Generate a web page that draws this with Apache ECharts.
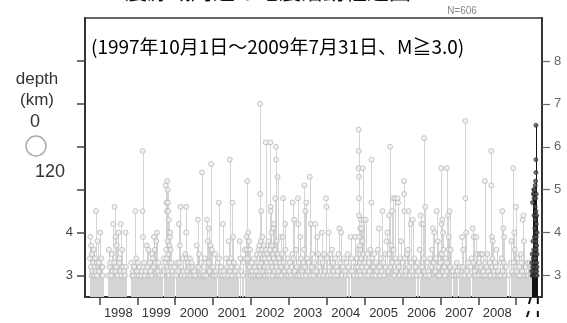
<!DOCTYPE html>
<html><head><meta charset="utf-8">
<script src="https://cdn.jsdelivr.net/npm/echarts@6/dist/echarts.min.js"></script>
<style>html,body{margin:0;padding:0;background:#fff}#c{width:567px;height:323px}</style>
</head><body><div id="c"></div>
<script>
// ---- axis definitions ----
const timeMin = 1997.62, timeMax = 2009.68;
const magMin = 2.5, magMax = 9;
const yearTicks = [1998,1999,2000,2001,2002,2003,2004,2005,2006,2007,2008,2009];
const yearLabels = [1998.5,1999.5,2000.5,2001.5,2002.5,2003.5,2004.5,2005.5,2006.5,2007.5,2008.5];
const magTicks = [3,4,5,6,7,8];
const leftMagLabels = [3,4];
const breakTimes = [2009.36, 2009.57];

// ---- events: [decimal year, magnitude] ----
const ev1997 = [[1997.75,3.4],[1997.76,3.9],[1997.77,3.2],[1997.78,3.7],[1997.79,3.0],[1997.80,3.5],[1997.81,3.1],[1997.83,3.3],[1997.84,3.0],[1997.85,3.6],[1997.87,3.2],[1997.88,3.0],[1997.89,3.4],[1997.90,3.1],[1997.91,4.5],[1997.93,3.3],[1997.94,3.0],[1997.95,3.8],[1997.97,3.2],[1997.98,3.1],[1997.99,3.3]];
const ev1998 = [[1998.02,4.0],[1998.03,3.2],[1998.05,3.4],[1998.07,3.2],[1998.08,3.2],[1998.09,3.0],[1998.23,3.0],[1998.25,3.6],[1998.27,3.2],[1998.29,3.3],[1998.31,3.0],[1998.33,3.5],[1998.35,3.1],[1998.37,4.2],[1998.39,3.3],[1998.40,4.6],[1998.42,3.1],[1998.43,3.9],[1998.45,3.2],[1998.46,3.7],[1998.48,3.0],[1998.50,4.0],[1998.52,3.3],[1998.53,3.4],[1998.55,3.1],[1998.56,4.2],[1998.58,3.0],[1998.60,3.6],[1998.62,3.2],[1998.65,3.1],[1998.67,3.0],[1998.69,4.0],[1998.70,3.2],[1998.84,3.3],[1998.86,3.0],[1998.88,3.1],[1998.90,3.0],[1998.92,3.2],[1998.95,4.5],[1998.96,3.1],[1998.97,3.4],[1998.99,3.0]];
const ev1999 = [[1999.00,3.1],[1999.02,3.3],[1999.04,3.0],[1999.06,3.2],[1999.10,3.0],[1999.12,3.1],[1999.14,5.9],[1999.14,4.5],[1999.15,3.9],[1999.16,3.2],[1999.18,3.3],[1999.20,3.0],[1999.22,3.1],[1999.25,3.7],[1999.27,3.2],[1999.29,3.6],[1999.31,3.0],[1999.33,3.3],[1999.35,3.1],[1999.37,3.0],[1999.39,3.5],[1999.41,3.4],[1999.43,3.2],[1999.44,3.9],[1999.46,3.6],[1999.48,3.3],[1999.50,3.8],[1999.52,4.0],[1999.54,3.1],[1999.56,3.3],[1999.59,3.0],[1999.62,3.2],[1999.66,3.0],[1999.70,3.4],[1999.72,3.1],[1999.74,3.3],[1999.75,5.1],[1999.76,3.6],[1999.77,4.7],[1999.78,4.5],[1999.78,3.4],[1999.79,5.2],[1999.79,3.2],[1999.80,5.0],[1999.80,3.8],[1999.81,4.7],[1999.81,3.1],[1999.82,4.5],[1999.82,3.5],[1999.83,4.3],[1999.83,3.0],[1999.84,4.0],[1999.85,3.7],[1999.85,3.3],[1999.86,3.9],[1999.87,4.0],[1999.88,3.6],[1999.89,3.2],[1999.90,3.3],[1999.92,3.1],[1999.94,3.0],[1999.97,3.2]];
const ev2000 = [[2000.02,3.0],[2000.05,3.3],[2000.08,3.1],[2000.10,4.2],[2000.11,3.3],[2000.12,3.7],[2000.14,4.6],[2000.15,3.2],[2000.17,3.0],[2000.20,3.4],[2000.22,3.1],[2000.25,3.0],[2000.27,3.5],[2000.29,4.6],[2000.29,4.0],[2000.30,3.4],[2000.31,3.1],[2000.33,3.3],[2000.35,3.0],[2000.37,3.2],[2000.39,3.4],[2000.41,3.0],[2000.43,3.3],[2000.45,3.2],[2000.48,3.0],[2000.50,3.1],[2000.53,3.0],[2000.55,3.2],[2000.57,3.7],[2000.60,4.3],[2000.61,3.2],[2000.63,3.5],[2000.66,3.0],[2000.69,3.3],[2000.71,5.4],[2000.72,3.0],[2000.74,3.1],[2000.76,3.0],[2000.78,3.4],[2000.80,3.3],[2000.82,3.0],[2000.84,4.3],[2000.86,3.8],[2000.88,4.1],[2000.89,3.3],[2000.91,3.1],[2000.93,3.7],[2000.95,5.6],[2000.96,3.2],[2000.97,3.6],[2000.99,3.0]];
const ev2001 = [[2001.01,3.2],[2001.03,3.0],[2001.05,3.5],[2001.07,3.1],[2001.09,3.0],[2001.12,3.3],[2001.15,4.7],[2001.16,3.4],[2001.18,3.0],[2001.21,3.2],[2001.24,3.0],[2001.26,4.2],[2001.28,3.1],[2001.31,3.0],[2001.34,3.4],[2001.37,3.2],[2001.40,3.0],[2001.41,3.8],[2001.43,3.3],[2001.44,5.7],[2001.45,3.1],[2001.47,3.4],[2001.48,3.2],[2001.50,3.0],[2001.51,4.7],[2001.53,3.9],[2001.55,3.3],[2001.58,3.1],[2001.61,3.0],[2001.64,3.2],[2001.67,3.0],[2001.70,3.8],[2001.72,3.4],[2001.75,3.1],[2001.78,3.0],[2001.80,3.3],[2001.83,3.6],[2001.86,3.4],[2001.88,3.9],[2001.89,3.6],[2001.90,5.2],[2001.91,3.4],[2001.93,4.0],[2001.95,3.8],[2001.96,3.2],[2001.98,3.6],[2001.99,3.1]];
const ev2002 = [[2002.00,3.0],[2002.02,3.3],[2002.04,3.1],[2002.06,3.0],[2002.08,3.4],[2002.10,3.2],[2002.12,3.0],[2002.14,3.1],[2002.16,3.5],[2002.18,3.0],[2002.19,3.3],[2002.20,3.6],[2002.21,3.0],[2002.22,3.7],[2002.23,3.2],[2002.24,7.0],[2002.24,4.9],[2002.25,3.5],[2002.25,3.1],[2002.26,3.8],[2002.27,4.5],[2002.27,3.3],[2002.28,3.0],[2002.29,3.6],[2002.30,3.9],[2002.31,3.4],[2002.32,3.1],[2002.33,3.7],[2002.34,3.0],[2002.35,3.5],[2002.36,3.2],[2002.37,3.4],[2002.38,3.0],[2002.39,6.1],[2002.40,3.6],[2002.41,3.3],[2002.42,3.1],[2002.43,3.5],[2002.44,3.0],[2002.45,3.2],[2002.46,3.8],[2002.47,3.4],[2002.48,3.1],[2002.49,3.0],[2002.50,3.6],[2002.51,6.1],[2002.52,4.6],[2002.52,4.5],[2002.53,3.3],[2002.54,4.0],[2002.55,3.7],[2002.56,3.2],[2002.57,3.0],[2002.58,3.5],[2002.59,4.1],[2002.60,3.4],[2002.61,4.2],[2002.62,3.1],[2002.63,3.6],[2002.64,4.8],[2002.65,3.3],[2002.66,6.0],[2002.66,5.7],[2002.67,3.2],[2002.68,3.8],[2002.69,3.0],[2002.70,5.3],[2002.71,3.5],[2002.72,3.1],[2002.73,3.4],[2002.74,3.0],[2002.76,3.3],[2002.78,3.9],[2002.79,3.2],[2002.80,3.0],[2002.82,3.5],[2002.84,3.9],[2002.85,4.8],[2002.86,3.3],[2002.88,3.1],[2002.90,4.2],[2002.91,3.6],[2002.93,3.0],[2002.95,3.2],[2002.97,3.4],[2002.99,3.0]];
const ev2003 = [[2003.01,3.1],[2003.03,3.3],[2003.05,3.0],[2003.07,3.2],[2003.09,3.5],[2003.10,4.7],[2003.12,3.4],[2003.14,4.3],[2003.15,3.1],[2003.17,3.0],[2003.19,3.6],[2003.21,3.2],[2003.23,3.0],[2003.24,4.8],[2003.25,4.2],[2003.26,3.3],[2003.28,3.0],[2003.30,3.9],[2003.32,3.4],[2003.34,3.1],[2003.36,3.0],[2003.38,3.3],[2003.40,3.6],[2003.41,5.1],[2003.42,3.2],[2003.43,4.5],[2003.45,3.0],[2003.46,4.7],[2003.48,3.4],[2003.50,3.1],[2003.52,3.3],[2003.55,5.3],[2003.56,3.0],[2003.58,4.2],[2003.60,3.2],[2003.62,3.5],[2003.64,3.0],[2003.67,3.3],[2003.70,4.2],[2003.72,3.1],[2003.75,3.9],[2003.77,3.5],[2003.80,3.2],[2003.82,3.0],[2003.84,3.4],[2003.87,4.0],[2003.89,3.3],[2003.91,3.0],[2003.93,3.5],[2003.95,3.1],[2003.98,4.8],[2003.99,4.6]];
const ev2004 = [[2004.01,3.4],[2004.03,3.0],[2004.05,4.0],[2004.07,3.2],[2004.09,3.5],[2004.11,3.0],[2004.14,3.6],[2004.16,3.3],[2004.18,3.1],[2004.20,3.0],[2004.22,3.4],[2004.25,3.2],[2004.27,3.0],[2004.29,3.1],[2004.31,3.5],[2004.33,4.1],[2004.35,3.3],[2004.38,4.0],[2004.40,3.0],[2004.42,3.2],[2004.45,3.4],[2004.48,3.1],[2004.50,3.0],[2004.52,3.3],[2004.55,3.5],[2004.57,3.2],[2004.60,3.0],[2004.63,3.9],[2004.65,3.4],[2004.67,3.1],[2004.70,3.3],[2004.72,3.0],[2004.75,3.9],[2004.77,3.2],[2004.79,3.4],[2004.81,3.0],[2004.82,3.6],[2004.83,3.2],[2004.84,6.4],[2004.84,5.9],[2004.84,5.5],[2004.85,5.3],[2004.85,4.8],[2004.85,4.4],[2004.86,3.9],[2004.86,3.5],[2004.87,3.7],[2004.87,3.1],[2004.88,4.1],[2004.88,3.3],[2004.89,3.6],[2004.89,3.0],[2004.90,4.3],[2004.91,3.4],[2004.92,4.1],[2004.93,3.2],[2004.94,3.8],[2004.95,5.5],[2004.96,3.5],[2004.97,4.3],[2004.98,3.1],[2004.99,3.3]];
const ev2005 = [[2005.01,3.0],[2005.03,4.3],[2005.05,3.2],[2005.07,3.5],[2005.09,3.0],[2005.11,3.3],[2005.13,3.1],[2005.15,3.6],[2005.18,5.7],[2005.18,4.7],[2005.19,3.4],[2005.21,3.0],[2005.23,3.2],[2005.25,3.5],[2005.28,3.0],[2005.30,3.3],[2005.32,3.1],[2005.35,3.6],[2005.37,4.1],[2005.39,3.2],[2005.41,3.0],[2005.43,3.4],[2005.45,3.1],[2005.47,4.5],[2005.49,3.3],[2005.51,3.0],[2005.54,3.5],[2005.56,3.2],[2005.58,3.8],[2005.60,4.0],[2005.62,3.1],[2005.64,4.4],[2005.65,3.5],[2005.67,6.0],[2005.68,3.2],[2005.70,3.7],[2005.72,4.5],[2005.73,3.3],[2005.75,4.8],[2005.76,3.6],[2005.78,3.0],[2005.80,4.8],[2005.81,3.4],[2005.83,3.1],[2005.85,3.3],[2005.87,4.8],[2005.88,4.7],[2005.90,3.2],[2005.92,3.0],[2005.94,3.4],[2005.96,3.8],[2005.98,3.1]];
const ev2006 = [[2006.00,3.3],[2006.02,3.0],[2006.04,5.2],[2006.04,4.9],[2006.05,4.5],[2006.06,3.4],[2006.08,3.1],[2006.10,3.0],[2006.12,3.5],[2006.14,3.6],[2006.16,4.5],[2006.17,3.2],[2006.19,3.0],[2006.21,4.2],[2006.23,3.3],[2006.25,3.1],[2006.27,4.3],[2006.29,3.0],[2006.31,3.4],[2006.34,3.2],[2006.37,3.0],[2006.40,3.3],[2006.42,3.1],[2006.45,3.6],[2006.47,3.0],[2006.48,4.4],[2006.50,4.2],[2006.52,3.2],[2006.55,4.2],[2006.56,3.4],[2006.57,6.2],[2006.58,3.1],[2006.60,4.6],[2006.62,3.0],[2006.65,3.3],[2006.68,3.1],[2006.70,3.0],[2006.73,3.4],[2006.76,3.2],[2006.78,3.6],[2006.80,4.1],[2006.82,3.3],[2006.84,4.0],[2006.86,3.1],[2006.88,3.4],[2006.90,4.5],[2006.92,3.0],[2006.93,3.8],[2006.95,3.2],[2006.97,3.0],[2006.99,3.5]];
const ev2007 = [[2007.01,3.3],[2007.02,5.5],[2007.03,4.2],[2007.04,3.5],[2007.05,4.3],[2007.06,3.1],[2007.07,4.0],[2007.08,3.6],[2007.10,3.2],[2007.12,3.0],[2007.14,3.4],[2007.16,3.1],[2007.17,5.5],[2007.18,3.3],[2007.20,4.4],[2007.21,3.6],[2007.22,3.9],[2007.24,4.5],[2007.25,3.2],[2007.27,3.6],[2007.29,3.0],[2007.32,3.1],[2007.35,3.0],[2007.38,3.2],[2007.41,3.0],[2007.43,3.3],[2007.45,3.1],[2007.48,3.0],[2007.52,3.2],[2007.55,3.0],[2007.57,3.9],[2007.59,3.2],[2007.60,3.6],[2007.63,3.0],[2007.66,6.6],[2007.66,4.8],[2007.68,4.0],[2007.70,3.1],[2007.73,3.3],[2007.76,3.0],[2007.79,3.2],[2007.82,3.4],[2007.85,4.1],[2007.87,3.3],[2007.88,3.9],[2007.90,3.1],[2007.92,3.0],[2007.94,3.9],[2007.96,3.5],[2007.98,3.2]];
const ev2008 = [[2008.00,3.0],[2008.02,3.3],[2008.04,3.5],[2008.06,3.2],[2008.08,3.5],[2008.10,3.0],[2008.11,3.5],[2008.13,3.1],[2008.15,3.0],[2008.17,5.2],[2008.18,3.3],[2008.20,3.0],[2008.22,3.2],[2008.24,3.5],[2008.26,3.1],[2008.28,3.0],[2008.30,3.3],[2008.32,3.0],[2008.34,5.9],[2008.34,5.1],[2008.35,3.2],[2008.36,3.9],[2008.37,3.4],[2008.38,3.8],[2008.40,3.1],[2008.42,3.0],[2008.44,3.3],[2008.46,3.2],[2008.48,3.6],[2008.50,3.0],[2008.52,3.1],[2008.55,3.0],[2008.58,3.3],[2008.60,3.0],[2008.62,3.4],[2008.63,4.5],[2008.64,3.1],[2008.66,4.1],[2008.67,3.3],[2008.68,3.9],[2008.70,3.0],[2008.74,3.2],[2008.80,3.0],[2008.86,3.3],[2008.87,3.8],[2008.89,3.1],[2008.92,5.5],[2008.93,3.3],[2008.95,4.0],[2008.96,3.6],[2008.98,3.2],[2008.99,4.6]];
const ev2009 = [[2009.01,3.1],[2009.03,3.4],[2009.05,3.0],[2009.08,3.2],[2009.10,3.0],[2009.12,3.5],[2009.14,3.3],[2009.16,3.1],[2009.17,4.3],[2009.19,4.4],[2009.20,3.8],[2009.22,3.0],[2009.25,3.2],[2009.28,3.0],[2009.30,3.3],[2009.32,3.0],[2009.35,3.3],[2009.37,3.2],[2009.39,3.0]];
const swarm2009 = [[2009.41,3.1],[2009.41,3.3],[2009.42,3.0],[2009.42,3.5],[2009.43,3.2],[2009.43,4.7],[2009.44,3.0],[2009.44,3.8],[2009.45,3.4],[2009.45,4.9],[2009.45,3.1],[2009.46,5.0],[2009.46,3.6],[2009.46,3.0],[2009.47,4.4],[2009.47,3.3],[2009.47,4.8],[2009.48,3.0],[2009.48,4.9],[2009.48,3.9],[2009.48,3.2],[2009.49,5.0],[2009.49,4.1],[2009.49,3.5],[2009.49,3.0],[2009.50,5.1],[2009.50,4.6],[2009.50,3.7],[2009.50,3.1],[2009.50,4.3],[2009.51,5.2],[2009.51,4.0],[2009.51,3.4],[2009.51,3.0],[2009.51,4.8],[2009.52,6.5],[2009.52,5.7],[2009.52,5.4],[2009.52,4.5],[2009.52,3.8],[2009.52,3.2],[2009.53,4.9],[2009.53,4.2],[2009.53,3.6],[2009.53,3.0],[2009.53,3.9],[2009.54,4.4],[2009.54,3.3],[2009.54,3.1],[2009.54,3.7],[2009.55,3.5],[2009.55,3.0],[2009.55,4.0],[2009.55,3.2]];

const grayEvents = [].concat(ev1997,ev1998,ev1999,ev2000,ev2001,ev2002,ev2003,ev2004,ev2005,ev2006,ev2007,ev2008,ev2009);

const titleText = '震源域周辺の地震活動経過図';
const subtitleText = '(1997年10月1日～2009年7月31日、M≧3.0)';
const countText = 'N=606';

function stemRenderer(color){
  return function(params, api){
    const t = api.value(0), m = api.value(1);
    const b = api.coord([t, magMin]);
    const p = api.coord([t, m]);
    const x = Math.round(b[0]) + 0.5;
    return {type:'line', shape:{x1:x,y1:b[1],x2:x,y2:p[1]}, style:{stroke:color,lineWidth:1}, silent:true};
  };
}

const chart = echarts.init(document.getElementById('c'), null, {renderer:'canvas'});
const numFont = 'Liberation Sans, Arial, sans-serif';
chart.setOption({
  animation:false,
  grid:{left:85,right:25,top:18,bottom:26,show:true,borderColor:'#333',borderWidth:1.5,backgroundColor:'transparent'},
  xAxis:{type:'value',min:timeMin,max:timeMax,
    axisLine:{show:true,lineStyle:{color:'#333',width:2}},
    axisTick:{show:true,customValues:yearTicks,length:8,lineStyle:{color:'#444',width:1.5}},
    axisLabel:{customValues:yearLabels,formatter:v=>String(Math.floor(v)),color:'#333',fontSize:13,fontFamily:numFont,margin:10},
    splitLine:{show:false}},
  yAxis:[
    {type:'value',min:magMin,max:magMax,position:'left',
     axisLine:{show:true,lineStyle:{color:'#333',width:2}},
     axisTick:{show:true,customValues:magTicks,length:8,lineStyle:{color:'#444',width:1.5}},
     axisLabel:{customValues:leftMagLabels,color:'#444',fontSize:13,fontFamily:numFont,margin:12},
     splitLine:{show:false}},
    {type:'value',min:magMin,max:magMax,position:'right',
     axisLine:{show:true,lineStyle:{color:'#333',width:2}},
     axisTick:{show:true,customValues:magTicks,length:8,lineStyle:{color:'#666',width:1.2}},
     axisLabel:{customValues:magTicks,color:'#666',fontSize:13,fontFamily:numFont,margin:12},
     splitLine:{show:false}}
  ],
  series:[
    {type:'custom',renderItem:stemRenderer('#d4d4d4'),data:grayEvents,encode:{x:0,y:1},clip:true,z:2},
    {type:'scatter',data:grayEvents,symbol:'circle',symbolSize:5,itemStyle:{color:'#f0f0f0',borderColor:'#b8b8b8',borderWidth:1},z:3,silent:true},
    {type:'custom',renderItem:stemRenderer('#111'),data:swarm2009,encode:{x:0,y:1},clip:true,z:4},
    {type:'scatter',data:swarm2009,symbol:'circle',symbolSize:4,itemStyle:{color:'#555',borderColor:'#222',borderWidth:0.8},z:5,silent:true}
  ]
});

const axisBottom = chart.convertToPixel({yAxisIndex:0}, magMin);
const bx = breakTimes.map(t => chart.convertToPixel({xAxisIndex:0}, t));
const graphics = [
  {type:'text',x:125,y:-9,style:{text:titleText,font:'22px "Noto Sans CJK JP"',fill:'#111',textVerticalAlign:'middle'}},
  {type:'text',x:462,y:11,style:{text:countText,font:'10px '+numFont,fill:'#888',textAlign:'center',textVerticalAlign:'middle'}},
  {type:'text',x:91,y:47,style:{text:subtitleText,font:'19px "Noto Sans CJK JP"',fill:'#000',textVerticalAlign:'middle'}},
  {type:'text',x:37,y:79,style:{text:'depth',font:'17px '+numFont,fill:'#333',textAlign:'center',textVerticalAlign:'middle'}},
  {type:'text',x:37,y:100,style:{text:'(km)',font:'17px '+numFont,fill:'#333',textAlign:'center',textVerticalAlign:'middle'}},
  {type:'text',x:35,y:122,style:{text:'0',font:'18px '+numFont,fill:'#333',textAlign:'center',textVerticalAlign:'middle'}},
  {type:'circle',shape:{cx:36,cy:146,r:10},style:{fill:'none',stroke:'#aaa',lineWidth:1.5}},
  {type:'text',x:50,y:172,style:{text:'120',font:'18px '+numFont,fill:'#333',textAlign:'center',textVerticalAlign:'middle'}},
  {type:'line',shape:{x1:bx[0]+1,y1:axisBottom,x2:bx[0]-1,y2:axisBottom+7},style:{stroke:'#111',lineWidth:2}},
  {type:'line',shape:{x1:bx[1],y1:axisBottom,x2:bx[1],y2:axisBottom+7},style:{stroke:'#111',lineWidth:2}},
  {type:'line',shape:{x1:bx[0]-1,y1:axisBottom+14,x2:bx[0]-3,y2:axisBottom+20},style:{stroke:'#111',lineWidth:2}},
  {type:'line',shape:{x1:bx[1],y1:axisBottom+14,x2:bx[1],y2:axisBottom+20},style:{stroke:'#111',lineWidth:2}}
];
chart.setOption({graphic:graphics});
</script>
</body></html>
